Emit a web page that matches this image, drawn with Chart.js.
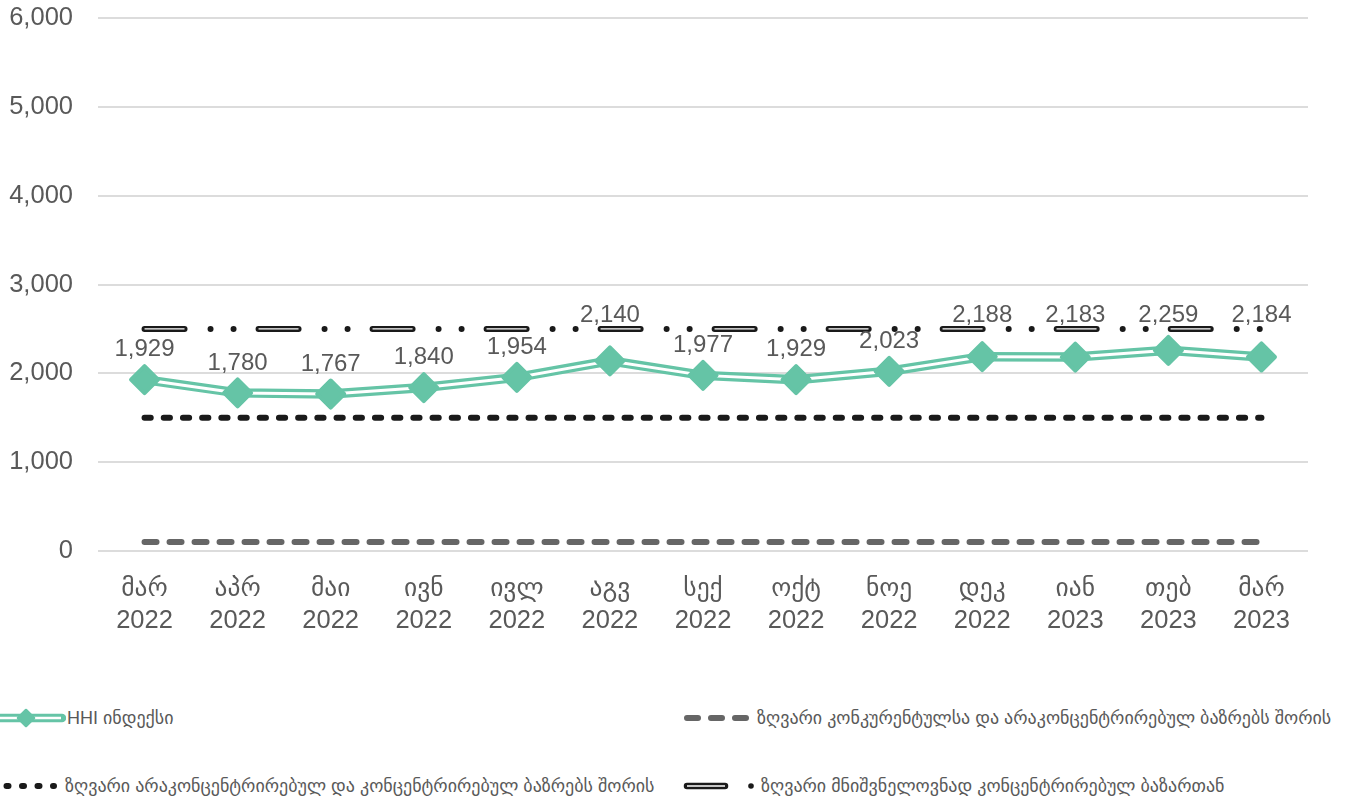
<!DOCTYPE html>
<html lang="ka">
<head>
<meta charset="UTF-8">
<title>HHI ინდექსი</title>
<script src="https://cdn.jsdelivr.net/npm/chart.js"></script>
<style>
  body {
    margin: 0;
    background: #fff;
    font-family: "Liberation Sans", "DejaVu Sans", sans-serif;
  }
  #wrap {
    position: relative;
    width: 1355px;
    height: 803px;
    overflow: hidden;
  }
  #chart-box {
    position: absolute;
    left: 0;
    top: 0;
    width: 1355px;
    height: 660px;
  }
  .lg {
    position: absolute;
    height: 20px;
    line-height: 20px;
    font-size: 18px;
    color: #595959;
    white-space: nowrap;
  }
  .lg svg {
    position: absolute;
    top: 0;
  }
</style>
</head>
<body>
<div id="wrap">
  <div id="chart-box"><canvas id="hhiChart"></canvas></div>

  <!-- legend, 2 x 2 -->
  <div class="lg" style="left:0; top:708px; width:600px;">
    <svg style="left:-10px" width="76" height="20">
      <line x1="4" y1="10" x2="72" y2="10" stroke="#65c4a6" stroke-width="8.5" stroke-linecap="round"/>
      <line x1="4" y1="10" x2="71" y2="10" stroke="#fff" stroke-width="2.6"/>
      <path d="M36 2 L44 10 L36 18 L28 10 Z" fill="#65c4a6" stroke="#65c4a6" stroke-width="2.5" stroke-linejoin="round"/>
    </svg>
    <span style="position:absolute; left:67px;">HHI ინდექსი</span>
  </div>
  <div class="lg" style="left:680px; top:708px; width:675px;">
    <svg style="left:0" width="76" height="20">
      <line x1="7" y1="10" x2="70" y2="10" stroke="#666" stroke-width="6" stroke-linecap="round" stroke-dasharray="11 13"/>
    </svg>
    <span style="position:absolute; left:77px;">ზღვარი კონკურენტულსა და არაკონცენტრირებულ ბაზრებს შორის</span>
  </div>
  <div class="lg" style="left:0; top:776px; width:680px;">
    <svg style="left:-14px" width="76" height="20">
      <line x1="5" y1="10" x2="68" y2="10" stroke="#1a1a1a" stroke-width="6" stroke-linecap="round" stroke-dasharray="2 13.5"/>
    </svg>
    <span style="position:absolute; left:65px;">ზღვარი არაკონცენტრირებულ და კონცენტრირებულ ბაზრებს შორის</span>
  </div>
  <div class="lg" style="left:680px; top:776px; width:675px;">
    <svg style="left:0" width="80" height="20">
      <line x1="7" y1="10" x2="45" y2="10" stroke="#1a1a1a" stroke-width="6.5" stroke-linecap="round"/>
      <line x1="7" y1="10" x2="45" y2="10" stroke="#fff" stroke-width="1.3"/>
      <circle cx="71" cy="10" r="2.8" fill="#1a1a1a"/>
    </svg>
    <span style="position:absolute; left:81px;">ზღვარი მნიშვნელოვნად კონცენტრირებულ ბაზართან</span>
  </div>
</div>

<script>
  // months (two-line labels: month, year)
  const months = ['მარ', 'აპრ', 'მაი', 'ივნ', 'ივლ', 'აგვ', 'სექ', 'ოქტ', 'ნოე', 'დეკ', 'იან', 'თებ', 'მარ'];
  const years = ['2022', '2022', '2022', '2022', '2022', '2022', '2022', '2022', '2022', '2022', '2023', '2023', '2023'];

  // HHI index per month
  const hhi = [1929, 1780, 1767, 1840, 1954, 2140, 1977, 1929, 2023, 2188, 2183, 2259, 2184];

  // market concentration thresholds
  const competitiveLimit = [100, 100, 100, 100, 100, 100, 100, 100, 100, 100, 100, 100, 100];
  const unconcentratedLimit = [1500, 1500, 1500, 1500, 1500, 1500, 1500, 1500, 1500, 1500, 1500, 1500, 1500];
  const highlyConcentratedLimit = [2500, 2500, 2500, 2500, 2500, 2500, 2500, 2500, 2500, 2500, 2500, 2500, 2500];

  const yTicks = [0, 1000, 2000, 3000, 4000, 5000, 6000];

  const green = '#65c4a6';
  const textGray = '#595959';
  const fontFamily = '"Liberation Sans", "DejaVu Sans", sans-serif';

  const labels = months.map((m, i) => [m, years[i]]);

  // value labels above the HHI points; a label that would sit on the
  // 2500 threshold line is lifted just above it
  const pointLabels = {
    id: 'pointLabels',
    beforeDatasetsDraw(chart) {
      chart.ctx.lineJoin = 'round';
    },
    afterDatasetsDraw(chart) {
      const meta = chart.getDatasetMeta(0);
      const lineY = chart.scales.y.getPixelForValue(highlyConcentratedLimit[0]);
      const ctx = chart.ctx;
      ctx.save();
      ctx.font = '24px ' + fontFamily;
      ctx.fillStyle = textGray;
      ctx.textAlign = 'center';
      ctx.textBaseline = 'middle';
      meta.data.forEach((pt, i) => {
        let y = pt.y - 30;
        if (Math.abs(y - lineY) < 12) y = lineY - 14;
        ctx.fillText(hhi[i].toLocaleString('en-US'), pt.x, y);
      });
      ctx.restore();
    }
  };

  const ctx = document.getElementById('hhiChart').getContext('2d');
  new Chart(ctx, {
    type: 'line',
    data: {
      labels: labels,
      datasets: [
        {
          // diamonds on top
          data: hhi,
          showLine: false,
          pointStyle: 'rectRot',
          pointRadius: 13.5,
          pointBackgroundColor: green,
          pointBorderColor: green,
          pointBorderWidth: 4
        },
        {
          // white core of the double line
          data: hhi,
          borderColor: '#fff',
          borderWidth: 3,
          pointRadius: 0,
          tension: 0
        },
        {
          data: hhi,
          borderColor: green,
          borderWidth: 9.5,
          pointRadius: 0,
          tension: 0
        },
        {
          // white stripe inside the long dashes
          data: highlyConcentratedLimit,
          borderColor: '#fff',
          borderWidth: 1.3,
          borderDash: [40, 74],
          pointRadius: 0
        },
        {
          data: highlyConcentratedLimit,
          borderColor: '#1a1a1a',
          borderWidth: 6,
          borderDash: [40, 26, 0.01, 23, 0.01, 25],
          borderCapStyle: 'round',
          pointRadius: 0
        },
        {
          data: unconcentratedLimit,
          borderColor: '#1a1a1a',
          borderWidth: 6,
          borderDash: [6.2, 13],
          borderCapStyle: 'round',
          pointRadius: 0
        },
        {
          data: competitiveLimit,
          borderColor: '#666666',
          borderWidth: 6,
          borderDash: [12, 13],
          borderCapStyle: 'round',
          pointRadius: 0
        }
      ]
    },
    options: {
      responsive: true,
      maintainAspectRatio: false,
      animation: false,
      layout: { padding: { top: 0, right: 47, bottom: 0, left: 0 } },
      plugins: {
        legend: { display: false },
        tooltip: { enabled: false }
      },
      scales: {
        x: {
          offset: true,
          grid: { display: false, drawTicks: false },
          border: { display: false },
          ticks: {
            color: textGray,
            padding: 22,
            maxRotation: 0,
            autoSkip: false,
            font: { family: fontFamily, size: 25.5, lineHeight: 1.25 }
          },
          afterFit(scale) { scale.height = 109; }
        },
        y: {
          min: 0,
          max: 6000,
          grid: { color: '#dcdcdc', lineWidth: 2, drawTicks: false },
          border: { display: false },
          afterBuildTicks(scale) { scale.ticks = yTicks.map(v => ({ value: v })); },
          ticks: {
            color: textGray,
            padding: 25,
            font: { family: fontFamily, size: 25.5 },
            callback: v => v.toLocaleString('en-US')
          },
          afterFit(scale) {
            scale.width = 98;
            // keep the top gridline close to the canvas edge
            scale.paddingTop = 18;
          }
        }
      }
    },
    plugins: [pointLabels]
  });
</script>
</body>
</html>
